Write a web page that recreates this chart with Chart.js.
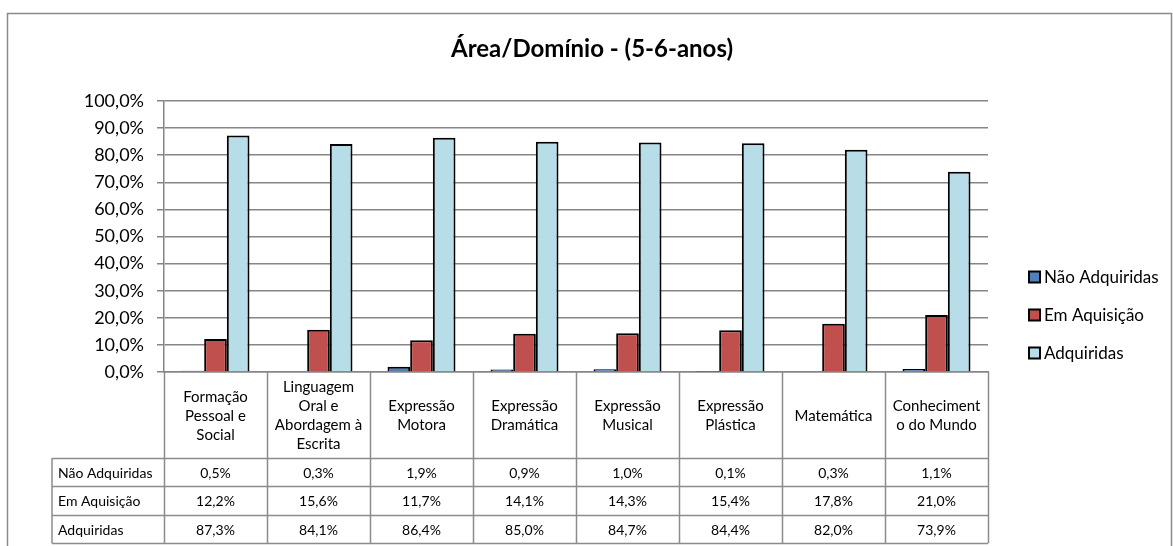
<!DOCTYPE html>
<html>
<head>
<meta charset="utf-8">
<script src="https://cdn.jsdelivr.net/npm/chart.js@4/dist/chart.umd.min.js"></script>
<style>
  html, body { margin: 0; padding: 0; background: #fff; }
  #wrap { width: 1173px; height: 546px; }
</style>
</head>
<body>
<div id="wrap"><canvas id="chart"></canvas></div>
<script>
// categories as wrapped in the data table header
const categories = [
    ['Formação', 'Pessoal e', 'Social'],
    ['Linguagem', 'Oral e', 'Abordagem à', 'Escrita'],
    ['Expressão', 'Motora'],
    ['Expressão', 'Dramática'],
    ['Expressão', 'Musical'],
    ['Expressão', 'Plástica'],
    ['Matemática'],
    ['Conheciment', 'o do Mundo']
];
const naoAdquiridas = [0.5, 0.3, 1.9, 0.9, 1.0, 0.1, 0.3, 1.1];
const emAquisicao = [12.2, 15.6, 11.7, 14.1, 14.3, 15.4, 17.8, 21.0];
const adquiridas = [87.3, 84.1, 86.4, 85.0, 84.7, 84.4, 82.0, 73.9];
const titleText = 'Área/Domínio - (5-6-anos)';

const FONT = 'Lato, "Open Sans", sans-serif';
const GRID = '#868686';

function pct(v) {
    return v.toFixed(1).replace('.', ',') + '%';
}

// draws the frame, title, legend and the data table under the plot
const excelBits = {
    id: 'excelBits',
    beforeDraw(chart) {
        const ctx = chart.ctx;
        ctx.save();
        ctx.fillStyle = '#fff';
        ctx.fillRect(0, 0, chart.width, chart.height);
        ctx.strokeStyle = '#8a8a8a';
        ctx.lineWidth = 1.5;
        ctx.strokeRect(7.5, 13.5, 1164, 600);
        ctx.restore();
    },
    afterDraw(chart) {
        const {ctx, chartArea, scales: {x}} = chart;
        const sets = chart.data.datasets;
        ctx.save();

        // title
        ctx.fillStyle = '#000';
        ctx.font = 'bold 24px ' + FONT;
        ctx.textAlign = 'center';
        ctx.textBaseline = 'middle';
        ctx.fillText(titleText, 592, 49);

        // legend
        ctx.font = '17px ' + FONT;
        ctx.textAlign = 'left';
        sets.forEach((ds, i) => {
            const cy = 277 + i * 38;
            ctx.fillStyle = ds.backgroundColor;
            ctx.fillRect(1029, cy - 5.5, 11, 11);
            ctx.strokeStyle = '#000';
            ctx.lineWidth = 2;
            ctx.strokeRect(1029, cy - 5.5, 11, 11);
            ctx.fillStyle = '#000';
            ctx.fillText(ds.label, 1044, cy + 1);
        });

        // data table
        const half = (x.getPixelForValue(1) - x.getPixelForValue(0)) / 2;
        const top = chartArea.bottom;
        const headBottom = top + 86;
        const rowH = 28.4;
        const tableBottom = headBottom + rowH * sets.length;
        const labelLeft = 52;
        const right = chartArea.right;

        ctx.strokeStyle = '#8c8c8c';
        ctx.lineWidth = 1.5;
        ctx.beginPath();
        for (let i = 0; i <= categories.length; i++) {
            const bx = Math.round(x.getPixelForValue(i) - half) + 0.5;
            ctx.moveTo(bx, top);
            ctx.lineTo(bx, tableBottom);
        }
        ctx.moveTo(labelLeft, headBottom);
        ctx.lineTo(labelLeft, tableBottom);
        for (let r = 0; r <= sets.length; r++) {
            const ry = Math.round(headBottom + r * rowH) + 0.5;
            ctx.moveTo(labelLeft, ry);
            ctx.lineTo(right, ry);
        }
        ctx.stroke();

        ctx.fillStyle = '#000';
        ctx.font = '15px ' + FONT;
        ctx.textAlign = 'center';
        ctx.textBaseline = 'middle';
        const lineH = 19;
        categories.forEach((lines, i) => {
            const cx = x.getPixelForValue(i);
            const y0 = (top + headBottom) / 2 - (lines.length - 1) * lineH / 2;
            lines.forEach((t, k) => ctx.fillText(t, cx, y0 + k * lineH + 1));
        });

        ctx.font = '14px ' + FONT;
        sets.forEach((ds, r) => {
            const cy = headBottom + r * rowH + rowH / 2 + 1;
            ctx.textAlign = 'left';
            ctx.fillText(ds.label, labelLeft + 6, cy);
            ctx.textAlign = 'center';
            ds.data.forEach((v, i) => ctx.fillText(pct(v), x.getPixelForValue(i), cy));
        });

        ctx.restore();
    }
};

new Chart(document.getElementById('chart'), {
    type: 'bar',
    data: {
        labels: categories.map(c => c.join(' ')),
        datasets: [
            { label: 'Não Adquiridas', data: naoAdquiridas, backgroundColor: '#4F81BD' },
            { label: 'Em Aquisição', data: emAquisicao, backgroundColor: '#C0504D' },
            { label: 'Adquiridas', data: adquiridas, backgroundColor: '#B7DEE8' }
        ]
    },
    options: {
        responsive: true,
        maintainAspectRatio: false,
        animation: false,
        datasets: {
            bar: {
                borderColor: '#000',
                borderWidth: 2,
                categoryPercentage: 0.66,
                barPercentage: 1
            }
        },
        layout: { padding: { top: 101, right: 185, left: 0, bottom: 0 } },
        plugins: {
            legend: { display: false },
            title: { display: false },
            tooltip: { enabled: false }
        },
        scales: {
            x: {
                ticks: { display: false },
                grid: { display: false },
                border: { display: true, color: GRID, width: 1.5 },
                afterFit(scale) { scale.height = 174; }
            },
            y: {
                min: 0,
                max: 100,
                ticks: {
                    stepSize: 10,
                    padding: 13,
                    color: '#000',
                    font: { family: FONT, size: 18 },
                    callback: v => pct(v)
                },
                grid: { color: GRID, lineWidth: 1.5, tickLength: 7 },
                border: { display: true, color: GRID, width: 1.5 },
                afterFit(scale) { scale.width = 164; }
            }
        }
    },
    plugins: [excelBits]
});
</script>
</body>
</html>
